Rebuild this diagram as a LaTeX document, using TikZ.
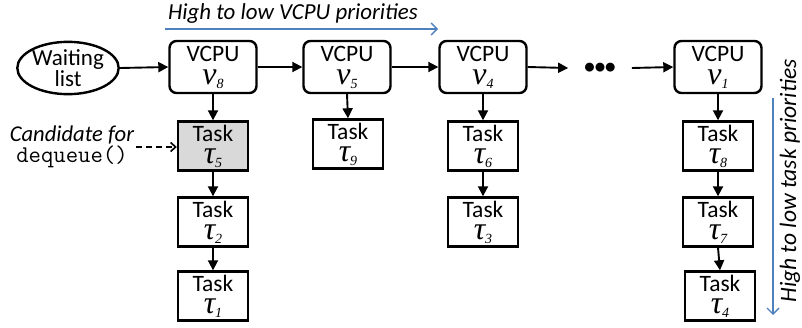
\documentclass[tikz,border=0pt]{standalone}
\usepackage{fontspec}
\setmainfont{Carlito}
\newfontfamily\symfont{Liberation Serif}
\usetikzlibrary{arrows.meta, shapes.geometric}
\definecolor{prioblue}{HTML}{4F81BD}
\definecolor{headgray}{HTML}{D9D9D9}
\newcommand{\symsub}[2]{{\symfont\itshape\fontsize{32}{32}\selectfont #1}\raisebox{-4pt}{\symfont\itshape\fontsize{14}{14}\selectfont #2}}
\tikzset{
  vcpu/.style={rectangle, rounded corners=7pt, draw, line width=2.4pt, minimum width=87pt,
               minimum height=52pt, inner sep=0pt, align=center, font=\fontsize{23.5}{23}\selectfont},
  task/.style={rectangle, draw, line width=2.4pt, minimum width=70pt, minimum height=49pt,
               inner sep=0pt, align=center, font=\fontsize{23.5}{22}\selectfont},
  link/.style={-{Triangle[length=10pt, width=10pt]}, line width=1.9pt},
  deq/.style={-{Straight Barb[length=5pt, width=9pt]}, dash pattern=on 6pt off 4pt, line width=1.6pt},
  prio/.style={-{Straight Barb[length=6pt, width=12pt]}, draw=prioblue, line width=1.4pt},
  lbl/.style={font=\fontsize{22.9}{24}\selectfont\itshape, inner sep=0pt},
}

\begin{document}
\begin{tikzpicture}[x=1pt, y=-1pt,
  queue/.style={ellipse, draw, line width=2.4pt, minimum width=100pt, minimum height=52pt,
                inner sep=0pt, align=center, font=\fontsize{23}{19}\selectfont}]
  \useasboundingbox (0,0) rectangle (802,327);
  \node[queue] (wait) at (68,68) {Waiting\\list};
  \node[vcpu] (v8) at (213,67) {VCPU\\\symsub{v}{8}};
  \node[vcpu] (v5) at (347,67) {VCPU\\\symsub{v}{5}};
  \node[vcpu] (v4) at (483,67) {VCPU\\\symsub{v}{4}};
  \node[font=\fontsize{21}{21}\selectfont\bfseries, inner xsep=16pt] (dots) at (600,68) {\textbullet\textbullet\textbullet};
  \node[vcpu] (v1) at (718,67) {VCPU\\\symsub{v}{1}};
  \node[task, fill=headgray] (t5) at (213,146) {Task\\\symsub{τ}{5}};
  \node[task] (t2) at (213,222) {Task\\\symsub{τ}{2}};
  \node[task] (t1) at (213,296) {Task\\\symsub{τ}{1}};
  \node[task] (t9) at (348,144) {Task\\\symsub{τ}{9}};
  \node[task] (t6) at (483,146) {Task\\\symsub{τ}{6}};
  \node[task] (t3) at (483,222) {Task\\\symsub{τ}{3}};
  \node[task] (t8) at (718,146) {Task\\\symsub{τ}{8}};
  \node[task] (t7) at (718,222) {Task\\\symsub{τ}{7}};
  \node[task] (t4) at (720,296) {Task\\\symsub{τ}{4}};
  \node[align=center, font=\fontsize{22.6}{21}\selectfont, inner sep=2pt] (cand) at (72,147)
    {\textit{Candidate for}\\{\ttfamily\fontsize{24}{21}\selectfont dequeue()}};
  % priority directions
  \node[lbl] (vlbl) at (293,14) {High to low VCPU priorities};
  \coordinate (vbeg) at (165,29);
  \coordinate (vend) at (438,29);
  \draw[prio] (vbeg) -- (vend);
  \node[lbl, rotate=90, font=\fontsize{23.5}{24}\selectfont\itshape] (tlbl) at (790,181) {High to low task priorities};
  \coordinate (tbeg) at (773,98);
  \coordinate (tend) at (773,315);
  \draw[prio] (tbeg) -- (tend);
  % VCPU list
  \draw[link] (wait.east) -- (v8.west);
  \draw[link] (v8.east) -- (v5.west);
  \draw[link] (v5.east) -- (v4.west);
  \draw[link] (v4.east) -- (dots.west);
  \draw[link] (dots.east) -- (v1.west);
  % task queues
  \draw[link] (v8.south) -- (t5.north);
  \draw[link] (t5.south) -- (t2.north);
  \draw[link] (t2.south) -- (t1.north);
  \draw[link] (v5.south) -- (t9.north);
  \draw[link] (v4.south) -- (t6.north);
  \draw[link] (t6.south) -- (t3.north);
  \draw[link] (v1.south) -- (t8.north);
  \draw[link] (t8.south) -- (t7.north);
  \draw[link] (t7.south) -- (t4.north);
  \draw[deq] (cand.east) -- (cand.east -| t5.west);
\end{tikzpicture}
\end{document}
